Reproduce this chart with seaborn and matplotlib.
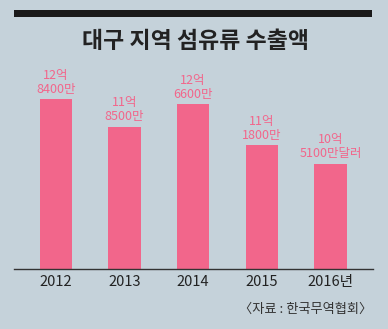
import matplotlib
matplotlib.use("Agg")
import matplotlib.pyplot as plt
import seaborn as sns
import pandas as pd
from matplotlib.patches import Rectangle

# 대구 지역 섬유류 수출액 (억 달러)
years = ["2012", "2013", "2014", "2015", "2016년"]
values = [12.84, 11.85, 12.66, 11.18, 10.51]
value_labels = ["12억\n8400만", "11억\n8500만", "12억\n6600만", "11억\n1800만", "10억\n5100만달러"]

title = "대구 지역 섬유류 수출액"
source = "〈자료 : 한국무역협회〉"

bg = "#c5d2da"
bar_color = "#f2668b"

sns.set_theme(style="white")
plt.rcParams["font.family"] = ["Noto Sans CJK KR", "DejaVu Sans"]

fig = plt.figure(figsize=(3.88, 3.29), dpi=100)
fig.patch.set_facecolor(bg)

W, H = 388, 329
ax = fig.add_axes([14 / W, (H - 269) / H, (373 - 14) / W, (269 - 60) / H])
ax.set_facecolor(bg)

df = pd.DataFrame({"year": years, "value": values})
sns.barplot(data=df, x="year", y="value", color=bar_color, width=0.47,
            saturation=1, linewidth=0, edgecolor="none", ax=ax)

ax.set_xlim(-0.61, 4.62)
ax.set_ylim(6.72, 14.26)

for i, (v, lab) in enumerate(zip(values, value_labels)):
    ax.annotate(lab, xy=(i, v), xytext=(0, 2.5), textcoords="offset points",
                ha="center", va="bottom", color=bar_color, fontsize=9,
                fontweight="medium", linespacing=1.1, multialignment="center")

for s in ["top", "left", "right"]:
    ax.spines[s].set_visible(False)
ax.spines["bottom"].set_color("#333333")
ax.spines["bottom"].set_linewidth(1.0)
ax.set_yticks([])
ax.set_xlabel("")
ax.set_ylabel("")
ax.tick_params(axis="x", length=0, pad=4, labelsize=10.5, labelcolor="#222222")

# top black rule and title
fig.patches.append(Rectangle((14 / W, 1 - 17 / H), (372 - 14) / W, 7 / H,
                             transform=fig.transFigure, facecolor="#1a1a1a",
                             edgecolor="none"))
fig.text(196 / W, 1 - 42 / H, title, ha="center", va="center",
         fontsize=16.5, fontweight="bold", color="#222222")
fig.text(372 / W, 1 - 309 / H, source, ha="right", va="center",
         fontsize=9.5, color="#333333")

fig.savefig("out.png", dpi=100, facecolor=bg)
